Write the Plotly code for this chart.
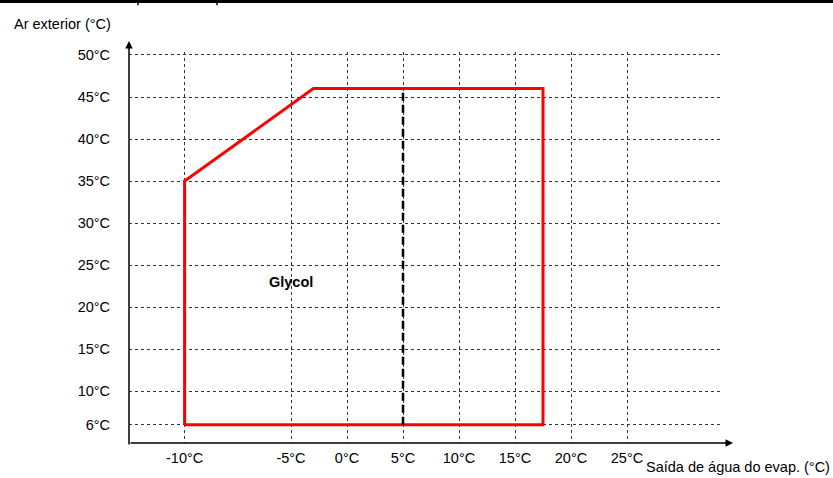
import numpy as np
import plotly.graph_objects as go

# ---------------- data ----------------
x_tick_values = [-10, -5, 0, 5, 10, 15, 20, 25]
x_tick_labels = ["-10°C", "-5°C", "0°C", "5°C", "10°C", "15°C", "20°C", "25°C"]
y_tick_values = [6, 10, 15, 20, 25, 30, 35, 40, 45, 50]
y_tick_labels = ["6°C", "10°C", "15°C", "20°C", "25°C", "30°C", "35°C", "40°C", "45°C", "50°C"]

# operating envelope (water outlet °C, outdoor air °C)
envelope_x = [-10, -10, -3, 17.5, 17.5, -10]
envelope_y = [6, 35, 46, 46, 6, 6]

# glycol limit line
glycol_x = [5, 5]
glycol_y = [6, 46]
glycol_label = "Glycol"
glycol_label_x = -5
glycol_label_y = 23

# ---------------- scale (schematic axis: -10..-5 interval drawn wider) ----------------
BREAK_AT = -5
STRETCH = 1.9


def xs(v):
    v = np.asarray(v, dtype=float)
    return np.where(v >= BREAK_AT, v, BREAK_AT + (v - BREAK_AT) * STRETCH)


W, H = 833, 478
ML, MR, MT, MB = 129, 112, 52, 32
PW, PH = W - ML - MR, H - MT - MB

FONT = "Liberation Sans, Arial, Helvetica, sans-serif"
FS = 14.5

fig = go.Figure()

fig.add_trace(go.Scatter(
    x=xs(envelope_x), y=envelope_y, mode="lines",
    line=dict(color="#FF0000", width=3), hoverinfo="skip"))

fig.add_trace(go.Scatter(
    x=xs(glycol_x), y=glycol_y, mode="lines",
    line=dict(color="#000000", width=2.5, dash="8px,4px"), hoverinfo="skip"))


def px_x(p):
    return (p - ML) / PW


def px_y(p):
    return (H - MB - p) / PH


annotations = [
    dict(x=float(xs(glycol_label_x)), y=glycol_label_y, xref="x", yref="y",
         text="<b>" + glycol_label + "</b>", showarrow=False,
         font=dict(family=FONT, size=FS, color="black")),
    # y-axis title
    dict(x=px_x(12), y=px_y(24), xref="paper", yref="paper", xanchor="left", yanchor="middle",
         text="Ar exterior (°C)", showarrow=False,
         font=dict(family=FONT, size=FS, color="black")),
    # x-axis title
    dict(x=px_x(832), y=px_y(470), xref="paper", yref="paper", xanchor="right", yanchor="middle",
         text="Saída de água do evap. (°C)", showarrow=False,
         font=dict(family=FONT, size=FS, color="black")),
    # x-axis with arrow
    dict(x=px_x(733), y=0, xref="paper", yref="paper", ax=-(733 - ML), ay=0,
         text="", showarrow=True, arrowhead=2, arrowsize=1, arrowwidth=1.5,
         arrowcolor="black", standoff=0, startstandoff=0),
    # y-axis with arrow
    dict(x=0, y=px_y(41), xref="paper", yref="paper", ax=0, ay=(H - MB - 41),
         text="", showarrow=True, arrowhead=2, arrowsize=1, arrowwidth=1.5,
         arrowcolor="black", standoff=0, startstandoff=0),
]

shapes = [
    dict(type="line", xref="paper", yref="paper", x0=px_x(0), x1=px_x(W), y0=px_y(1.2), y1=px_y(1.2),
         line=dict(color="black", width=3)),
    dict(type="line", xref="paper", yref="paper", x0=px_x(138), x1=px_x(138), y0=px_y(0), y1=px_y(5),
         line=dict(color="black", width=1.5)),
    dict(type="line", xref="paper", yref="paper", x0=px_x(217), x1=px_x(217), y0=px_y(0), y1=px_y(5),
         line=dict(color="black", width=1.5)),
]

x_lo = BREAK_AT - (291 - ML) / 11.2
x_hi = x_lo + PW / 11.2
y_per_px = 44 / 372.7
y_lo = 6 - (H - MB - 427.7) * y_per_px
y_hi = y_lo + PH * y_per_px

fig.update_layout(
    width=W, height=H, autosize=False,
    margin=dict(l=ML, r=MR, t=MT, b=MB, pad=0),
    paper_bgcolor="white", plot_bgcolor="white",
    showlegend=False,
    font=dict(family=FONT, size=FS, color="black"),
    xaxis=dict(range=[x_lo, x_hi], tickvals=xs(x_tick_values).tolist(), ticktext=x_tick_labels,
               showgrid=True, gridcolor="#333333", gridwidth=1, griddash="3px,3px",
               zeroline=False, showline=False, ticks="outside", ticklen=2,
               tickcolor="rgba(0,0,0,0)", tickfont=dict(family=FONT, size=FS, color="black"),
               fixedrange=True),
    yaxis=dict(range=[y_lo, y_hi], tickvals=y_tick_values, ticktext=y_tick_labels,
               showgrid=True, gridcolor="#333333", gridwidth=1, griddash="3px,3px",
               zeroline=False, showline=False, ticks="outside", ticklen=15,
               tickcolor="rgba(0,0,0,0)", tickfont=dict(family=FONT, size=FS, color="black"),
               fixedrange=True),
    annotations=annotations,
    shapes=shapes,
)

fig.write_html(
    "out.html",
    config={"displayModeBar": False, "staticPlot": True, "responsive": False},
    default_width="833px",
    default_height="478px",
    post_script="document.body.style.margin='0';document.body.style.overflow='hidden';",
)
